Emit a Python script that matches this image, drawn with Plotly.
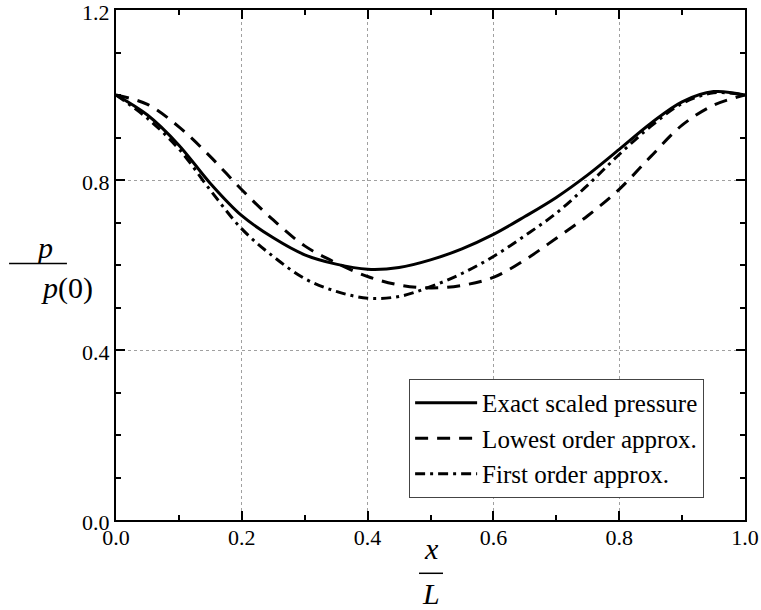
import plotly.graph_objects as go

x_vals = [0.0, 0.05, 0.1, 0.15, 0.2, 0.25, 0.3, 0.35, 0.4, 0.45, 0.5,
          0.55, 0.6, 0.65, 0.7, 0.75, 0.8, 0.85, 0.9, 0.95, 1.0]
exact = [1.0, 0.953, 0.882, 0.792, 0.716, 0.664, 0.624, 0.602, 0.590, 0.594, 0.612,
         0.638, 0.672, 0.714, 0.759, 0.812, 0.872, 0.933, 0.984, 1.008, 1.0]
lowest = [1.0, 0.978, 0.925, 0.855, 0.777, 0.706, 0.645, 0.605, 0.573, 0.553, 0.546,
          0.552, 0.571, 0.612, 0.663, 0.716, 0.778, 0.855, 0.929, 0.976, 1.0]
first = [1.0, 0.945, 0.873, 0.776, 0.685, 0.620, 0.568, 0.538, 0.522, 0.526, 0.549,
         0.580, 0.620, 0.669, 0.722, 0.788, 0.860, 0.926, 0.980, 1.005, 1.0]
names = ["Exact scaled pressure", "Lowest order approx.", "First order approx."]
x_ticks = [0.0, 0.2, 0.4, 0.6, 0.8, 1.0]
y_ticks = [0.0, 0.4, 0.8, 1.2]

FONT = "Liberation Serif"

fig = go.Figure()
fig.add_trace(go.Scatter(x=x_vals, y=exact, mode="lines", name=names[0],
                         line=dict(color="black", width=3, shape="spline")))
fig.add_trace(go.Scatter(x=x_vals, y=lowest, mode="lines", name=names[1],
                         line=dict(color="black", width=3, shape="spline", dash="13px,9px")))
fig.add_trace(go.Scatter(x=x_vals, y=first, mode="lines", name=names[2],
                         line=dict(color="black", width=3, shape="spline", dash="10px,5px,3px,5px")))

axis_common = dict(
    showline=True, linecolor="black", linewidth=2, mirror="ticks",
    ticks="inside", ticklen=9, tickwidth=2, tickcolor="black",
    showgrid=True, gridcolor="#a0a0a0", griddash="dot", gridwidth=1,
    zeroline=False, automargin=False, ticklabeloverflow="allow",
    tickfont=dict(family=FONT, size=22, color="black"),
)

fig.update_xaxes(range=[0, 1], tickvals=x_ticks, ticktext=[f"{v:.1f}" for v in x_ticks],
                 ticklabelstandoff=-3,
                 minor=dict(dtick=0.1, tick0=0, ticks="inside", ticklen=5, tickwidth=2,
                            tickcolor="black", showgrid=False),
                 **axis_common)
fig.update_yaxes(range=[0, 1.2], tickvals=y_ticks, ticktext=[f"{v:.1f}" for v in y_ticks],
                 ticklabelshift=2,
                 minor=dict(dtick=0.1, tick0=0, ticks="inside", ticklen=5, tickwidth=2,
                            tickcolor="black", showgrid=False),
                 **axis_common)

TF = dict(family=FONT, size=30, color="black")
# y-axis title as a fraction p / p(0)
fig.add_annotation(xref="paper", yref="paper", x=-0.131, y=0.535, text="<i>p</i>",
                   showarrow=False, font=TF)
fig.add_annotation(xref="paper", yref="paper", x=-0.1224, y=0.455, text="<i>p</i>(0)",
                   showarrow=False, font=TF)
fig.add_shape(type="line", xref="paper", yref="paper", x0=-0.170, x1=-0.078,
              y0=0.503, y1=0.503, line=dict(color="black", width=1.5))

# x-axis title as a fraction x / L
fig.add_annotation(xref="paper", yref="paper", x=0.5008, y=-0.092, text="<i>x</i>",
                   showarrow=False, font=TF)
fig.add_annotation(xref="paper", yref="paper", x=0.5008, y=-0.180, text="<i>L</i>",
                   showarrow=False, font=TF)
fig.add_shape(type="line", xref="paper", yref="paper", x0=0.4817, x1=0.5199,
              y0=-0.1045, y1=-0.1045, line=dict(color="black", width=1.5))

fig.update_layout(
    width=761, height=610,
    margin=dict(l=116, r=16, t=10, b=90, autoexpand=False),
    paper_bgcolor="white", plot_bgcolor="white",
    showlegend=True,
    legend=dict(x=0.466, y=0.2765, xanchor="left", yanchor="top",
                bordercolor="#444444", borderwidth=1, bgcolor="white",
                font=dict(family=FONT, size=25, color="black"),
                tracegroupgap=0, itemwidth=62),
)

fig.write_html("out.html", config={"displayModeBar": False},
               post_script="document.body.style.margin='0px';")
